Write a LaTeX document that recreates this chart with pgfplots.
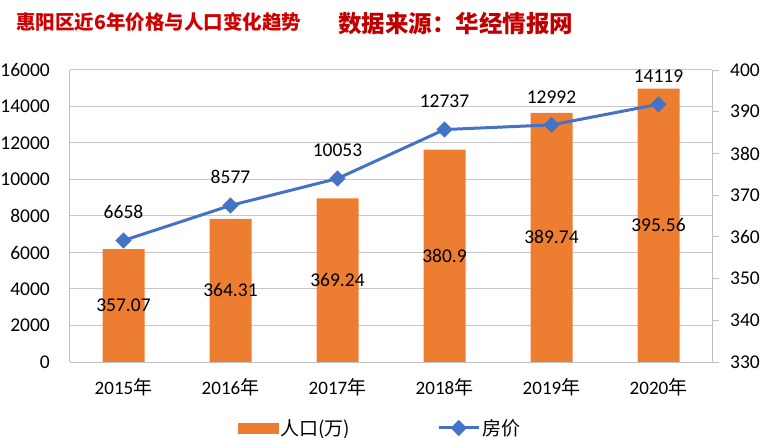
\documentclass[border=0pt]{standalone}
\usepackage{pgfplots}
\pgfplotsset{compat=1.18}
\usepackage{pgfplotstable}
\usepackage{fontspec}
\setmainfont{Carlito}
\newfontfamily\cjk{Noto Sans CJK SC}

\definecolor{barorange}{HTML}{ED7D31}
\definecolor{lineblue}{HTML}{4472C4}
\definecolor{axisgray}{HTML}{BFBFBF}
\definecolor{gridgray}{HTML}{C8C8C8}
\definecolor{titlered}{HTML}{D00000}
\definecolor{titlered2}{HTML}{C00000}
\newcommand{\numfont}{\fontsize{19.5bp}{23bp}\selectfont}

% year, population (10k), house price
\pgfplotstableread{
x pop price
0 357.07 6658
1 364.31 8577
2 369.24 10053
3 380.9 12737
4 389.74 12992
5 395.56 14119
}\huiyang

\pgfplotsset{
  base/.style={
    at={(0,0)}, anchor=south west,
    scale only axis, width=642bp, height=292bp,
    xmin=-0.5, xmax=5.5,
    /pgf/number format/assume math mode=true,
    /pgf/number format/1000 sep={},
  },
  lineleg/.style={
    legend image code/.code={\draw[mark repeat=2, mark phase=2, ##1]
      plot coordinates {(0bp,0bp) (20bp,0bp) (40bp,0bp)};}
  },
}

\begin{document}
\begin{tikzpicture}
\path[use as bounding box] (-70bp,-76bp) rectangle (706bp,362bp);

% grid, x labels, left axis
\begin{axis}[base,
  ymin=0, ymax=16000, ytick={0,2000,4000,6000,8000,10000,12000,14000,16000},
  xtick={0,1,2,3,4,5},
  xticklabels={2015{\cjk 年},2016{\cjk 年},2017{\cjk 年},2018{\cjk 年},2019{\cjk 年},2020{\cjk 年}},
  axis x line*=bottom, axis y line*=left,
  axis line style={-, draw=axisgray, line width=1bp},
  ymajorgrids, grid style={draw=gridgray, line width=1bp},
  major tick length=0pt,
  scaled y ticks=false,
  yticklabel style={anchor=east, inner sep=0pt, xshift=-20bp, font=\numfont},
  xticklabel style={anchor=center, inner sep=0pt, yshift=-25bp, font=\fontsize{19bp}{23bp}\selectfont},
]
\end{axis}

% population bars, right axis
\begin{axis}[base,
  ymin=330, ymax=400, ytick={330,340,350,360,370,380,390,400},
  axis y line*=right, axis x line=none,
  axis line style={-, draw=axisgray, line width=1bp},
  tick align=outside, major tick length=7bp,
  tick style={draw=axisgray, line width=1bp},
  xtick=\empty,
  yticklabel style={anchor=west, inner sep=0pt, xshift=11bp, font=\numfont},
]
\addplot[ybar, bar width=42bp, fill=barorange, draw=none] table[x=x, y=pop] {\huiyang};
\addplot[draw=none, nodes near coords, point meta=explicit symbolic,
  every node near coord/.append style={anchor=center, font=\numfont, text=black}]
  table[x=x, y expr={(\thisrow{pop}+330)/2}, meta=pop] {\huiyang};
\end{axis}

% house price line, left scale
\begin{axis}[base, ymin=0, ymax=16000, hide axis, clip=false,
  legend style={at={(0.483,-0.226)}, anchor=center, draw=none, fill=none,
    legend columns=-1, font=\fontsize{19bp}{23bp}\selectfont,
    /tikz/every even column/.append style={column sep=85bp}},
]
\addlegendimage{legend image code/.code={\fill[barorange] (0bp,-5bp) rectangle (40bp,5bp);}}
\addlegendentry{\cjk 人口(万)}
\addplot[lineblue, line width=3bp, mark=square*, mark size=4.2bp, mark options={rotate=45, solid},
  nodes near coords, point meta=explicit symbolic,
  every node near coord/.append style={anchor=south, inner sep=2bp, yshift=18bp, font=\numfont, text=black},
  lineleg]
  table[x=x, y=price, meta=price] {\huiyang};
\addlegendentry{\cjk 房价}
\end{axis}

\node[anchor=west, inner sep=0pt, text=titlered, font=\cjk\bfseries\fontsize{19.5bp}{23bp}\selectfont]
  at (-54bp,340bp) {惠阳区近6年价格与人口变化趋势};
\node[anchor=west, inner sep=0pt, text=titlered2, font=\cjk\bfseries\fontsize{23.5bp}{27bp}\selectfont]
  at (268bp,338bp) {数据来源：华经情报网};
\end{tikzpicture}
\end{document}
